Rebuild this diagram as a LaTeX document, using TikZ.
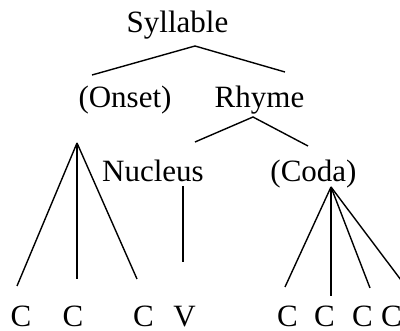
\documentclass[tikz,border=0pt]{standalone}
\usepackage{fontspec}
\setmainfont{Liberation Serif}
\begin{document}
\begin{tikzpicture}[x=1pt,y=-1pt,
  lbl/.style={anchor=base,inner sep=0pt,font=\fontsize{31}{36}\selectfont},
  leaf/.style={lbl,text depth=0pt},
  br/.style={line width=1.4pt}]
\useasboundingbox (0,0) rectangle (400,331);
\clip (0,0) rectangle (400,331);
% labels
\node[lbl] (syl) at (177.5,33) {Syllable};
\node[lbl] (ons) at (125,108) {(Onset)};
\node[lbl] (rhy) at (259.5,108) {Rhyme};
\node[lbl] (nuc) at (153,182) {Nucleus};
\node[lbl] (cod) at (313.5,182) {(Coda)};
\node[leaf] (c1) at (21,327) {C};
\node[leaf] (c2) at (73,327) {C};
\node[leaf] (c3) at (143.5,327) {C};
\node[leaf] (v1) at (184.5,327) {V};
\node[leaf] (c4) at (287.5,327) {C};
\node[leaf] (c5) at (324.5,327) {C};
\node[leaf] (c6) at (362.5,327) {C};
\node[leaf] (c7) at (391.5,327) {C};
% branch points
\coordinate (sylA) at (195,46);
\coordinate (onsT) at (92,75);
\coordinate (rhyT) at (285,72);
\coordinate (rhyA) at (253,117);
\coordinate (nucT) at (195,142);
\coordinate (codT) at (308,146);
\coordinate (onsA) at (77,143);
\coordinate (c1T) at (17,286);
\coordinate (c2T) at (77,279);
\coordinate (c3T) at (137,279);
\coordinate (nucB) at (183,186);
\coordinate (v1T) at (183,262);
\coordinate (codA) at (331,187);
\coordinate (c4T) at (285,287);
\coordinate (c5T) at (331,296);
\coordinate (c6T) at (370,288);
\coordinate (c7T) at (407,288);
% branches
\draw[br] (onsT) -- (sylA) -- (rhyT);
\draw[br] (nucT) -- (rhyA) -- (codT);
\draw[br] (onsA) -- (c1T);
\draw[br] (onsA) -- (c2T);
\draw[br] (onsA) -- (c3T);
\draw[br] (nucB) -- (v1T);
\draw[br] (codA) -- (c4T);
\draw[br] (codA) -- (c5T);
\draw[br] (codA) -- (c6T);
\draw[br] (codA) -- (c7T);
\end{tikzpicture}
\end{document}
